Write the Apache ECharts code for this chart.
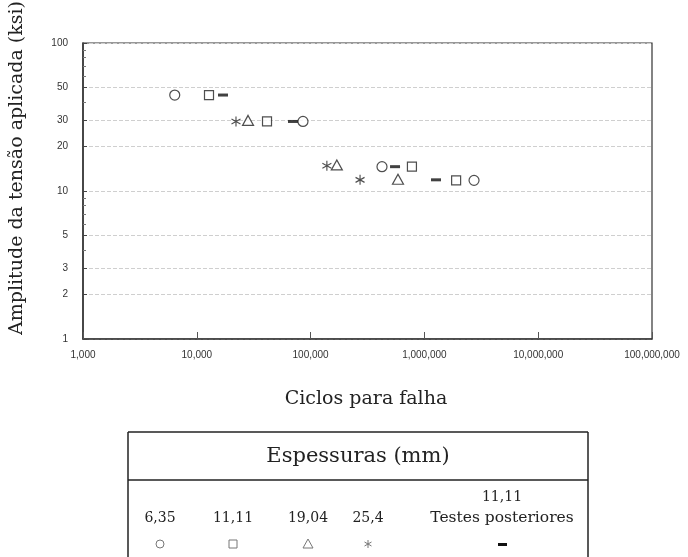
<!DOCTYPE html>
<html>
<head>
<meta charset="utf-8">
<script src="https://cdn.jsdelivr.net/npm/echarts@6/dist/echarts.min.js"></script>
<style>
  html, body { margin: 0; padding: 0; background: #fff; }
  #chart { width: 688px; height: 557px; }
</style>
</head>
<body>
<div id="chart"></div>
<script>
// ciclos para falha x amplitude (ksi)
const esp635 = [[6400, 44.5], [85700, 29.5], [424000, 14.6], [2730000, 11.8]];
const esp1111 = [[12800, 44.5], [41400, 29.5], [777000, 14.6], [1900000, 11.8]];
const esp1904 = [[28200, 30], [170000, 15], [586000, 12]];
const esp254 = [[22100, 29.5], [139000, 14.8], [272000, 11.9]];
const esp1111Post = [[17000, 44.5], [70000, 29.5], [552000, 14.6], [1265000, 11.9]];

const xTicks = [1e3, 1e4, 1e5, 1e6, 1e7, 1e8];
const yTicks = [1, 2, 3, 5, 10, 20, 30, 50, 100];
const yMinorTicks = [4, 6, 7, 8, 9, 40, 60, 70, 80, 90];

const legendLabels = ["6,35", "11,11", "19,04", "25,4"];

const serif = "'DejaVu Serif', serif";
const ink = "#222";
const asterisk = "path://M0,-5L0,5M-4.33,-2.5L4.33,2.5M-4.33,2.5L4.33,-2.5";

function withCommas(v) {
   return String(Math.round(v)).replace(/\B(?=(\d{3})+(?!\d))/g, ",");
}

function hollow(name, data, symbol, size) {
   return {
      name: name,
      type: "scatter",
      data: data,
      symbol: symbol,
      symbolSize: size,
      itemStyle: { color: "#fff", borderColor: ink, borderWidth: 1.2 },
      z: 3,
   };
}

const chart = echarts.init(document.getElementById("chart"));

// legenda desenhada como tabela
const lx = [160, 233, 308, 368];
const legendGfx = [
   { type: "line", shape: { x1: 128, y1: 432, x2: 588, y2: 432 }, style: { stroke: "#222", lineWidth: 1.5 } },
   { type: "line", shape: { x1: 128, y1: 480, x2: 588, y2: 480 }, style: { stroke: "#222", lineWidth: 1.5 } },
   { type: "line", shape: { x1: 128, y1: 432, x2: 128, y2: 557 }, style: { stroke: "#222", lineWidth: 1.5 } },
   { type: "line", shape: { x1: 588, y1: 432, x2: 588, y2: 557 }, style: { stroke: "#222", lineWidth: 1.5 } },
   {
      type: "text", x: 358, y: 457,
      style: { text: "Espessuras (mm)", font: "21px " + serif, fill: "#222", align: "center", verticalAlign: "middle" },
   },
   {
      type: "text", x: 502, y: 497,
      style: { text: "11,11", font: "14px " + serif, fill: "#222", align: "center", verticalAlign: "middle" },
   },
   {
      type: "text", x: 502, y: 518,
      style: { text: "Testes posteriores", font: "15.5px " + serif, fill: "#222", align: "center", verticalAlign: "middle" },
   },
];
legendLabels.forEach((t, i) => {
   legendGfx.push({
      type: "text", x: lx[i], y: 518,
      style: { text: t, font: "14px " + serif, fill: "#222", align: "center", verticalAlign: "middle" },
   });
});
const symStyle = { fill: "none", stroke: "#777", lineWidth: 1 };
legendGfx.push(
   { type: "circle", shape: { cx: lx[0], cy: 544, r: 4 }, style: symStyle },
   { type: "rect", shape: { x: lx[1] - 4, y: 540, width: 8, height: 8 }, style: symStyle },
   { type: "polygon", shape: { points: [[lx[2], 539], [lx[2] - 5, 548], [lx[2] + 5, 548]] }, style: symStyle },
   { type: "line", shape: { x1: lx[3], y1: 540, x2: lx[3], y2: 548 }, style: symStyle },
   { type: "line", shape: { x1: lx[3] - 3.5, y1: 542, x2: lx[3] + 3.5, y2: 546 }, style: symStyle },
   { type: "line", shape: { x1: lx[3] - 3.5, y1: 546, x2: lx[3] + 3.5, y2: 542 }, style: symStyle },
   { type: "rect", shape: { x: 498, y: 543, width: 9, height: 3 }, style: { fill: "#111" } },
   {
      type: "text", x: 17, y: 168, rotation: Math.PI / 2,
      style: { text: "Amplitude da tensão aplicada (ksi)", font: "19px " + serif, fill: "#222", align: "center", verticalAlign: "middle" },
   },
   {
      type: "text", x: 366, y: 399,
      style: { text: "Ciclos para falha", font: "19px " + serif, fill: "#222", align: "center", verticalAlign: "middle" },
   }
);

const option = {
   animation: false,
   backgroundColor: "#fff",
   grid: {
      left: 83, right: 36, top: 43, bottom: 218,
      show: true, borderColor: "#333", borderWidth: 1.2,
   },
   xAxis: {
      type: "log",
      logBase: 10,
      min: 1e3,
      max: 1e8,
      axisLine: { lineStyle: { color: "#333", width: 1.5 } },
      axisTick: { inside: true, length: 7, customValues: xTicks, lineStyle: { color: "#555" } },
      axisLabel: {
         customValues: xTicks,
         formatter: withCommas,
         fontFamily: "'Liberation Sans', Arial, sans-serif",
         fontSize: 10,
         color: "#333",
         margin: 11,
      },
      splitLine: { show: false },
   },
   yAxis: [
      {
         type: "log",
         logBase: 10,
         min: 1,
         max: 100,
         axisLine: { lineStyle: { color: "#333", width: 1.5 } },
         axisTick: { inside: true, length: 4, customValues: yTicks, lineStyle: { color: "#444" } },
         axisLabel: {
            customValues: yTicks,
            fontFamily: "'Liberation Sans', Arial, sans-serif",
            fontSize: 10,
            color: "#333",
            margin: 15,
         },
         splitLine: { show: true, lineStyle: { color: "#cfcfcf", type: [4, 2], width: 1 } },
      },
      {
         type: "log",
         logBase: 10,
         min: 1,
         max: 100,
         position: "left",
         axisLine: { show: false },
         axisTick: { inside: true, length: 3, customValues: yMinorTicks, lineStyle: { color: "#777" } },
         axisLabel: { show: false },
         splitLine: { show: false },
      },
   ],
   graphic: legendGfx,
   series: [
      hollow("6,35", esp635, "circle", 10),
      hollow("11,11", esp1111, "rect", 9),
      hollow("19,04", esp1904, "triangle", [11, 10]),
      {
         name: "25,4",
         type: "scatter",
         data: esp254,
         symbol: asterisk,
         symbolSize: [9, 10],
         itemStyle: { color: "rgba(0,0,0,0)", borderColor: ink, borderWidth: 1.2 },
         z: 3,
      },
      {
         name: "11,11 Testes posteriores",
         type: "scatter",
         data: esp1111Post,
         symbol: "rect",
         symbolSize: [10, 3],
         itemStyle: { color: "#111" },
         z: 4,
      },
   ],
};

chart.setOption(option);
</script>
</body>
</html>
